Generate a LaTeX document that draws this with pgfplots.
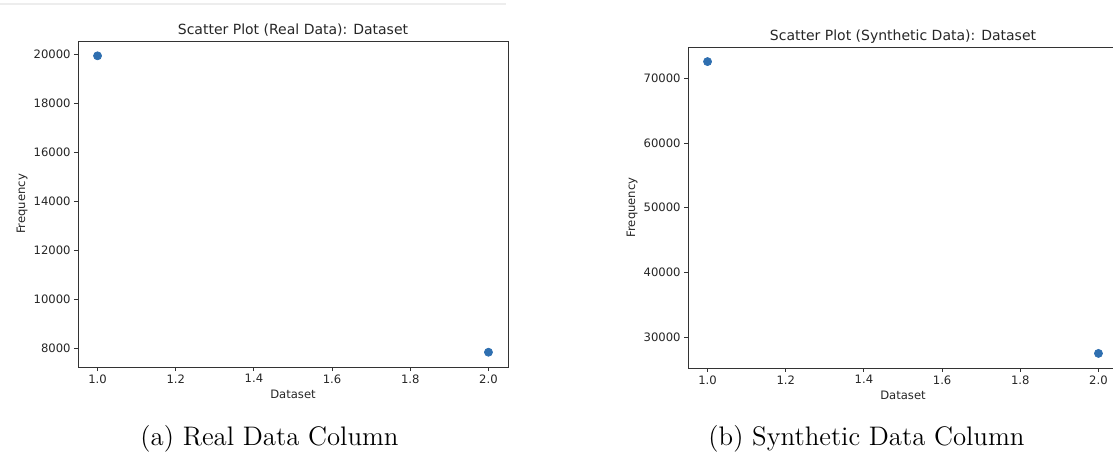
\documentclass[border=0pt]{standalone}
\usepackage{fontspec}
\usepackage{pgfplots}
\pgfplotsset{compat=1.18}
\newfontfamily\mpl{DejaVu Sans}
\definecolor{mplblue}{HTML}{2F6FB0}
\definecolor{mpltext}{HTML}{262626}
\pgfplotsset{
  mplstyle/.style={
    scale only axis,
    axis line style={line width=0.45pt, black!80},
    tick style={line width=0.45pt, black!80},
    tick align=outside,
    major tick length=2pt,
    xtick pos=bottom, ytick pos=left,
    /pgf/number format/assume math mode=true,
    ticklabel style={font=\mpl\fontsize{5.8}{7}\selectfont, text=mpltext},
    label style={font=\mpl\fontsize{5.8}{7}\selectfont, text=mpltext},
    title style={font=\mpl\fontsize{7}{8.4}\selectfont, text=mpltext, at={(0.5,1)}, anchor=base, yshift=-3pt, inner sep=0pt},
    xtick={1.0,1.2,1.4,1.6,1.8,2.0},
    xmin=0.95, xmax=2.05,
    xticklabel style={/pgf/number format/fixed, /pgf/number format/fixed zerofill, /pgf/number format/precision=1},
    yticklabel style={/pgf/number format/fixed, /pgf/number format/set thousands separator={}},
    scaled ticks=false,
    xlabel style={yshift=1.5pt},
    ylabel style={yshift=-2pt},
    every tick label/.append style={inner sep=1.5pt},
  }
}
\begin{document}
\begin{tikzpicture}
\useasboundingbox (0,0) rectangle (556.5pt,227.5pt);
\draw[black!7, line width=0.6pt] (0,225.5pt) -- (253pt,225.5pt);
\begin{axis}[mplstyle,
  at={(39pt,44pt)}, anchor=south west,
  width=215pt, height=163pt,
  ymin=7250, ymax=20538,
  ytick={8000,10000,12000,14000,16000,18000,20000},
  title={Scatter Plot (Real Data): Dataset},
  xlabel={Dataset}, ylabel={Frequency}]
\addplot[only marks, mark=*, mark size=2pt, color=mplblue] coordinates {(1.0,19934) (2.0,7852)};
\end{axis}
\begin{axis}[mplstyle,
  at={(344pt,43.5pt)}, anchor=south west,
  width=215pt, height=160.5pt,
  ymin=25210, ymax=74840,
  ytick={30000,40000,50000,60000,70000},
  title={Scatter Plot (Synthetic Data): Dataset},
  xlabel={Dataset}, ylabel={Frequency}]
\addplot[only marks, mark=*, mark size=2pt, color=mplblue] coordinates {(1.0,72584) (2.0,27466)};
\end{axis}
\node[anchor=base, font=\fontsize{13.4}{16}\selectfont, inner sep=0pt] at (134.75pt,5pt) {(a) Real Data Column};
\node[anchor=base, font=\fontsize{13.4}{16}\selectfont, inner sep=0pt] at (433.25pt,5pt) {(b) Synthetic Data Column};
\end{tikzpicture}
\end{document}
